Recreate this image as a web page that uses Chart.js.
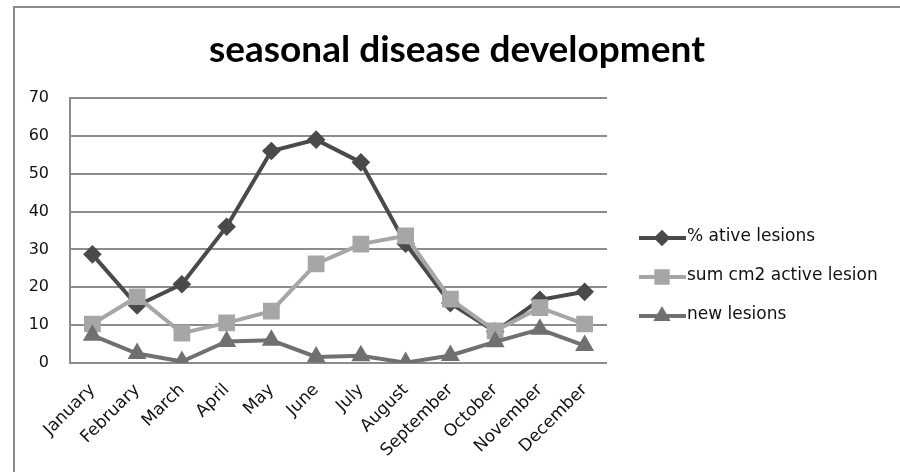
<!DOCTYPE html>
<html>
<head>
<meta charset="utf-8">
<script src="https://cdn.jsdelivr.net/npm/chart.js@4"></script>
<style>
  body { margin: 0; background: #fff; }
  #wrap { width: 900px; height: 472px; }
</style>
</head>
<body>
<div id="wrap"><canvas id="chart" width="900" height="472"></canvas></div>
<script>
const months = ["January", "February", "March", "April", "May", "June", "July", "August", "September", "October", "November", "December"];
const activeLesions = [28.7, 15.2, 20.8, 36, 56, 59, 53, 31.5, 15.8, 8.3, 16.7, 18.8];
const sumActiveArea = [10.3, 17.5, 7.9, 10.6, 13.7, 26.2, 31.4, 33.6, 16.9, 8.5, 14.6, 10.3];
const newLesions = [7.3, 2.5, 0.4, 5.7, 6, 1.6, 1.9, 0.1, 2, 5.6, 8.9, 4.6];
const yTicks = [0, 10, 20, 30, 40, 50, 60, 70];

const tickFont = { family: "'DejaVu Sans'", size: 17 };

// frame, title and the line+marker legend drawn by hand
const extras = {
  id: "extras",
  beforeDraw(chart) {
    const c = chart.ctx;
    c.save();
    c.fillStyle = "#fff";
    c.fillRect(0, 0, chart.width, chart.height);
    c.strokeStyle = "#8a8a8a";
    c.lineWidth = 2;
    c.beginPath();
    c.moveTo(14, 472);
    c.lineTo(14, 7);
    c.lineTo(900, 7);
    c.stroke();
    c.fillStyle = "#000";
    c.font = "bold 37px Lato, 'Open Sans', sans-serif";
    c.textAlign = "center";
    c.textBaseline = "alphabetic";
    c.fillText("seasonal disease development", 457, 62);
    c.restore();
  },
  afterDraw(chart) {
    const c = chart.ctx;
    const rows = [238, 277, 316];
    c.save();
    chart.data.datasets.forEach((ds, i) => {
      const y = rows[i];
      c.strokeStyle = ds.borderColor;
      c.lineWidth = 4;
      c.beginPath();
      c.moveTo(639, y);
      c.lineTo(686, y);
      c.stroke();
      c.fillStyle = ds.pointBackgroundColor;
      Chart.helpers.drawPoint(c, {
        pointStyle: ds.pointStyle,
        radius: ds.pointRadius - 1,
        borderWidth: 1
      }, 662, y);
      c.fillStyle = "#111";
      c.font = "17px 'DejaVu Sans'";
      c.textAlign = "left";
      c.textBaseline = "middle";
      c.fillText(ds.label, 687, y - 1);
    });
    c.restore();
  }
};

new Chart(document.getElementById("chart"), {
  type: "line",
  data: {
    labels: months,
    datasets: [
      {
        label: "% ative lesions",
        data: activeLesions,
        borderColor: "#4a4a4a",
        backgroundColor: "#4a4a4a",
        pointBackgroundColor: "#4a4a4a",
        pointStyle: "rectRot",
        pointRadius: 6.5,
        borderWidth: 4,
        order: 3
      },
      {
        label: "sum cm2 active lesion",
        data: sumActiveArea,
        borderColor: "#a6a6a6",
        backgroundColor: "#a6a6a6",
        pointBackgroundColor: "#a6a6a6",
        pointStyle: "rect",
        pointRadius: 9,
        borderWidth: 4,
        order: 2
      },
      {
        label: "new lesions",
        data: newLesions,
        borderColor: "#707070",
        backgroundColor: "#707070",
        pointBackgroundColor: "#707070",
        pointStyle: "triangle",
        pointRadius: 7,
        borderWidth: 4,
        order: 1
      }
    ]
  },
  options: {
    responsive: false,
    animation: false,
    layout: { padding: { left: 14, top: 98, right: 293, bottom: 0 } },
    plugins: {
      legend: { display: false },
      title: { display: false },
      tooltip: { enabled: false }
    },
    scales: {
      x: {
        offset: true,
        grid: { display: false, drawTicks: false },
        border: { display: false },
        ticks: {
          color: "#111",
          font: tickFont,
          minRotation: 45,
          maxRotation: 45,
          autoSkip: false,
          padding: 17
        },
        afterFit(scale) { scale.height = 109; }
      },
      y: {
        min: 0,
        max: 70,
        afterBuildTicks(scale) { scale.ticks = yTicks.map(v => ({ value: v })); },
        grid: { color: "#8c8c8c", lineWidth: 2, drawTicks: false },
        border: { display: true, color: "#8c8c8c", width: 2 },
        ticks: { color: "#111", font: { family: "'DejaVu Sans'", size: 16 }, padding: 21 },
        afterFit(scale) { scale.width = 56; }
      }
    }
  },
  plugins: [extras]
});
</script>
</body>
</html>
